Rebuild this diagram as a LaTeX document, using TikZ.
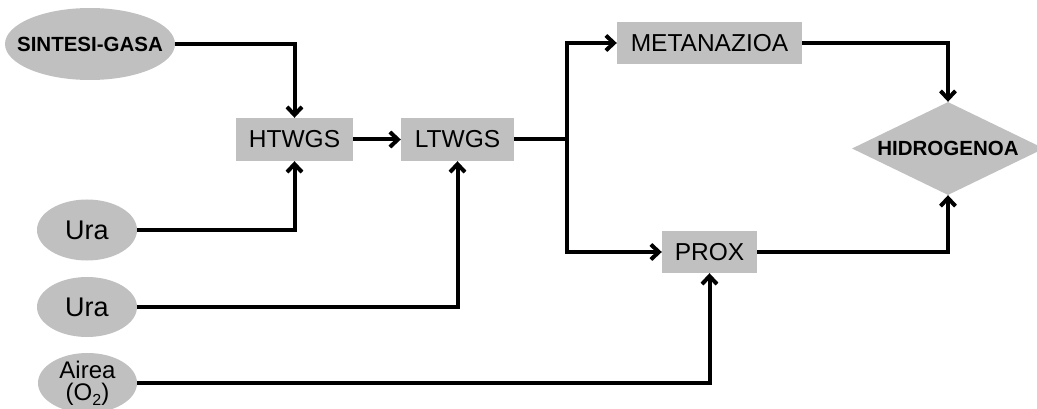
\documentclass[tikz,border=0pt]{standalone}
\usepackage{fontspec}
\setmainfont{Liberation Sans}
\usetikzlibrary{shapes.geometric,arrows.meta}
\definecolor{boxgray}{HTML}{C0C0C0}
\begin{document}
\begin{tikzpicture}[x=1pt,y=-1pt,
  oval/.style={ellipse,fill=boxgray,inner xsep=-30pt,inner ysep=-12pt},
  unit/.style={rectangle,fill=boxgray,inner sep=0pt,font=\fontsize{24.5}{26}\selectfont},
  goal/.style={diamond,fill=boxgray,inner sep=0pt,aspect=2.06,font=\bfseries\fontsize{20.5}{22}\selectfont},
  arr/.style={line width=4pt,-{Straight Barb[length=8pt,width=15pt,line width=4pt]}},
  ln/.style={line width=4pt}]
\useasboundingbox (0,0) rectangle (1037,409);
\node[oval,minimum width=170pt,minimum height=72pt,font=\bfseries\fontsize{20.5}{22}\selectfont] (sg) at (90,44) {SINTESI-GASA};
\node[unit,minimum width=117pt,minimum height=43pt] (ht) at (294.5,139.5) {HTWGS};
\node[unit,minimum width=113pt,minimum height=43pt] (lt) at (457.5,139.5) {LTWGS};
\node[unit,minimum width=185pt,minimum height=42pt] (me) at (709.5,43) {METANAZIOA};
\node[unit,minimum width=95pt,minimum height=42pt] (px) at (709.5,252) {PROX};
\node[goal,minimum width=192pt,minimum height=93pt] (hy) at (948,148.5) {HIDROGENOA};
\node[oval,minimum width=100pt,minimum height=61pt,font=\fontsize{27}{29}\selectfont] (u1) at (87,230) {Ura};
\node[oval,minimum width=100pt,minimum height=60pt,font=\fontsize{27}{29}\selectfont] (u2) at (87,307) {Ura};
\node[oval,minimum width=99pt,minimum height=60pt,align=center,font=\fontsize{24}{22}\selectfont] (ai) at (87.5,383) {Airea\\(O\raisebox{-0.4ex}{\fontsize{16}{16}\selectfont 2})};
\coordinate (sp) at (567,139.5);
\draw[arr] (sg.east) -| (ht.north);
\draw[arr] (u1.east) -| (ht.south);
\draw[arr] (ht.east) -- (lt.west);
\draw[arr] (u2.east) -| (lt.south);
\draw[ln] (lt.east) -- (sp);
\draw[arr] (sp) |- (me.west);
\draw[arr] (sp) |- (px.west);
\draw[arr] (ai.east) -| (px.south);
\draw[arr] (me.east) -| (hy.north);
\draw[arr] (px.east) -| (hy.south);
\end{tikzpicture}
\end{document}
